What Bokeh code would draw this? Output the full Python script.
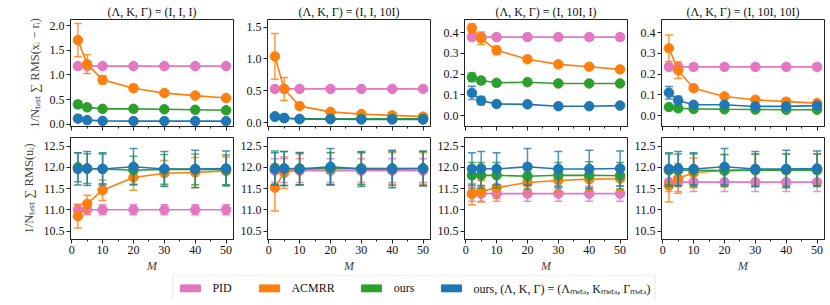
from bokeh.plotting import figure
from bokeh.layouts import column, row
from bokeh.models import (Range1d, Legend, LegendItem, FixedTicker,
                          ColumnDataSource, NumeralTickFormatter)
from bokeh.embed import file_html
from bokeh.resources import INLINE

# ---------------- data ----------------
M = [2, 5, 10, 20, 30, 40, 50]

titles = ["(Λ, K, Γ) = (I, I, I)", "(Λ, K, Γ) = (I, I, 10I)",
          "(Λ, K, Γ) = (I, 10I, I)", "(Λ, K, Γ) = (I, 10I, 10I)"]
series_names = ["PID", "ACMRR", "ours", "ours, (Λ, K, Γ) = (Λₘₑₜₐ, Kₘₑₜₐ, Γₘₑₜₐ)"]

# top row: tracking error
t1_pid = [1.18, 1.18, 1.18, 1.18, 1.18, 1.18, 1.18]
t1_pid_e = [0.03, 0.03, 0.03, 0.03, 0.03, 0.03, 0.03]
t1_acm = [1.71, 1.22, 0.90, 0.73, 0.63, 0.58, 0.53]
t1_acm_e = [0.34, 0.19, 0.08, 0.07, 0.04, 0.03, 0.03]
t1_our = [0.40, 0.34, 0.31, 0.31, 0.30, 0.29, 0.28]
t1_our_e = [0.07, 0.04, 0.03, 0.03, 0.02, 0.02, 0.02]
t1_met = [0.11, 0.08, 0.065, 0.06, 0.06, 0.06, 0.06]
t1_met_e = [0.03, 0.02, 0.01, 0.01, 0.01, 0.01, 0.01]

t2_pid = [0.53, 0.53, 0.53, 0.53, 0.53, 0.53, 0.53]
t2_pid_e = [0.02, 0.02, 0.02, 0.02, 0.02, 0.02, 0.02]
t2_acm = [1.04, 0.53, 0.26, 0.17, 0.135, 0.115, 0.095]
t2_acm_e = [0.36, 0.18, 0.04, 0.03, 0.02, 0.02, 0.02]
t2_our = [0.09, 0.07, 0.06, 0.06, 0.06, 0.06, 0.06]
t2_our_e = [0.02, 0.01, 0.01, 0.01, 0.01, 0.01, 0.01]
t2_met = [0.10, 0.075, 0.055, 0.055, 0.05, 0.05, 0.05]
t2_met_e = [0.03, 0.02, 0.01, 0.01, 0.01, 0.01, 0.01]

t3_pid = [0.379, 0.379, 0.379, 0.379, 0.379, 0.379, 0.379]
t3_pid_e = [0.015, 0.015, 0.015, 0.015, 0.015, 0.015, 0.015]
t3_acm = [0.422, 0.373, 0.315, 0.272, 0.247, 0.236, 0.223]
t3_acm_e = [0.02, 0.03, 0.02, 0.015, 0.012, 0.01, 0.01]
t3_our = [0.185, 0.169, 0.158, 0.161, 0.155, 0.155, 0.155]
t3_our_e = [0.02, 0.015, 0.01, 0.01, 0.01, 0.01, 0.01]
t3_met = [0.109, 0.072, 0.056, 0.054, 0.045, 0.045, 0.048]
t3_met_e = [0.032, 0.02, 0.01, 0.008, 0.006, 0.005, 0.005]

t4_pid = [0.235, 0.235, 0.235, 0.235, 0.235, 0.235, 0.235]
t4_pid_e = [0.015, 0.015, 0.015, 0.015, 0.015, 0.015, 0.015]
t4_acm = [0.325, 0.219, 0.132, 0.092, 0.076, 0.067, 0.06]
t4_acm_e = [0.064, 0.04, 0.015, 0.01, 0.008, 0.006, 0.005]
t4_our = [0.041, 0.035, 0.032, 0.03, 0.029, 0.028, 0.028]
t4_our_e = [0.006, 0.005, 0.004, 0.004, 0.004, 0.004, 0.004]
t4_met = [0.110, 0.073, 0.052, 0.052, 0.044, 0.044, 0.048]
t4_met_e = [0.03, 0.02, 0.01, 0.008, 0.005, 0.005, 0.005]

# bottom row: control effort
b1_pid = [11.0, 11.0, 11.0, 11.0, 11.0, 11.0, 11.0]
b1_pid_e = [0.12, 0.12, 0.12, 0.12, 0.12, 0.12, 0.12]
b1_acm = [10.85, 11.14, 11.46, 11.76, 11.86, 11.88, 11.91]
b1_acm_e = [0.28, 0.2, 0.24, 0.3, 0.3, 0.35, 0.33]
b1_our = [12.0, 11.97, 11.96, 11.93, 11.95, 11.95, 11.94]
b1_our_e = [0.34, 0.35, 0.35, 0.33, 0.35, 0.36, 0.35]
b_met = [11.96, 11.97, 11.96, 12.01, 11.96, 11.96, 11.97]
b_met_e = [0.38, 0.4, 0.38, 0.43, 0.41, 0.44, 0.41]

b2_pid = [11.92, 11.92, 11.92, 11.92, 11.92, 11.92, 11.92]
b2_pid_e = [0.28, 0.28, 0.28, 0.28, 0.28, 0.28, 0.28]
b2_acm = [11.52, 11.87, 11.95, 11.97, 11.97, 11.97, 11.97]
b2_acm_e = [0.55, 0.37, 0.36, 0.37, 0.37, 0.37, 0.37]
b2_our = [11.98, 11.97, 11.97, 11.97, 11.97, 11.97, 11.97]
b2_our_e = [0.4, 0.4, 0.38, 0.38, 0.38, 0.4, 0.4]

b3_pid = [11.38, 11.38, 11.38, 11.38, 11.38, 11.38, 11.38]
b3_pid_e = [0.18, 0.18, 0.18, 0.18, 0.18, 0.18, 0.18]
b3_acm = [11.37, 11.43, 11.52, 11.64, 11.69, 11.72, 11.73]
b3_acm_e = [0.25, 0.25, 0.25, 0.26, 0.27, 0.27, 0.27]
b3_our = [11.81, 11.81, 11.81, 11.79, 11.81, 11.81, 11.80]
b3_our_e = [0.3, 0.3, 0.3, 0.3, 0.3, 0.32, 0.31]

b4_pid = [11.65, 11.65, 11.65, 11.65, 11.65, 11.65, 11.65]
b4_pid_e = [0.22, 0.22, 0.22, 0.22, 0.22, 0.22, 0.22]
b4_acm = [11.57, 11.74, 11.87, 11.93, 11.94, 11.94, 11.95]
b4_acm_e = [0.39, 0.35, 0.35, 0.37, 0.37, 0.37, 0.37]
b4_our = [11.93, 11.93, 11.93, 11.92, 11.93, 11.93, 11.93]
b4_our_e = [0.38, 0.38, 0.38, 0.38, 0.38, 0.38, 0.38]

top_panels = [
    [(t1_pid, t1_pid_e), (t1_acm, t1_acm_e), (t1_our, t1_our_e), (t1_met, t1_met_e)],
    [(t2_pid, t2_pid_e), (t2_acm, t2_acm_e), (t2_our, t2_our_e), (t2_met, t2_met_e)],
    [(t3_pid, t3_pid_e), (t3_acm, t3_acm_e), (t3_our, t3_our_e), (t3_met, t3_met_e)],
    [(t4_pid, t4_pid_e), (t4_acm, t4_acm_e), (t4_our, t4_our_e), (t4_met, t4_met_e)],
]
bot_panels = [
    [(b1_pid, b1_pid_e), (b1_acm, b1_acm_e), (b1_our, b1_our_e), (b_met, b_met_e)],
    [(b2_pid, b2_pid_e), (b2_acm, b2_acm_e), (b2_our, b2_our_e), (b_met, b_met_e)],
    [(b3_pid, b3_pid_e), (b3_acm, b3_acm_e), (b3_our, b3_our_e), (b_met, b_met_e)],
    [(b4_pid, b4_pid_e), (b4_acm, b4_acm_e), (b4_our, b4_our_e), (b_met, b_met_e)],
]

top_ylims = [(-0.05, 2.13), (-0.06, 1.62), (-0.053, 0.464), (-0.053, 0.464)]
top_yticks = [[0, 0.5, 1.0, 1.5, 2.0], [0, 0.5, 1.0, 1.5],
              [0, 0.1, 0.2, 0.3, 0.4], [0, 0.1, 0.2, 0.3, 0.4]]
bot_ylim = (10.3, 12.7)
bot_yticks = [10.5, 11.0, 11.5, 12.0, 12.5]
x_ticks = [0, 10, 20, 30, 40, 50]
x_minor = [5, 15, 25, 35, 45]

colors = ["#e377c2", "#ff7f0e", "#2ca02c", "#1f77b4"]
FONT = "Liberation Serif"

# layout geometry (page has no margin with bokeh's template)
frame_w = 163
left_borders = [70, 33, 33, 33]
right_borders = [1, 1, 1, 4]


def style(p, yticks, show_xlabels):
    p.xgrid.visible = False
    p.ygrid.visible = False
    p.outline_line_color = "#222222"
    p.outline_line_width = 1
    for ax in (p.xaxis[0], p.yaxis[0]):
        ax.axis_line_color = "#222222"
        ax.major_tick_in = 0
        ax.major_tick_out = 4
        ax.minor_tick_in = 0
        ax.major_tick_line_color = "#222222"
        ax.minor_tick_line_color = "#222222"
        ax.major_label_text_font = FONT
        ax.major_label_text_font_size = "12px"
        ax.major_label_text_color = "#111111"
        ax.major_label_standoff = 2
    p.xaxis[0].ticker = FixedTicker(ticks=x_ticks, minor_ticks=x_minor)
    p.xaxis[0].minor_tick_out = 2
    p.yaxis[0].ticker = FixedTicker(ticks=yticks, minor_ticks=[])
    p.yaxis[0].minor_tick_out = 0
    p.yaxis[0].formatter = NumeralTickFormatter(format="0.0")
    if not show_xlabels:
        p.xaxis[0].major_label_text_color = None
        p.xaxis[0].major_label_text_font_size = "1px"
        p.xaxis[0].major_label_standoff = 0


def draw(p, panel):
    for (vals, errs), col in zip(panel, colors):
        src = ColumnDataSource(dict(
            x=M, y=vals,
            lo=[v - e for v, e in zip(vals, errs)],
            hi=[v + e for v, e in zip(vals, errs)]))
        p.segment(x0="x", y0="lo", x1="x", y1="hi", source=src,
                  line_color=col, line_width=1.5, line_alpha=0.8)
        p.scatter("x", "lo", source=src, marker="dash", size=8,
                  line_color=col, line_width=1.5, line_alpha=0.8)
        p.scatter("x", "hi", source=src, marker="dash", size=8,
                  line_color=col, line_width=1.5, line_alpha=0.8)
        p.line("x", "y", source=src, line_color=col, line_width=1.6)
        p.scatter("x", "y", source=src, size=9.5, fill_color=col,
                  line_color=col)


top_figs = []
bot_figs = []
for i in range(4):
    w = left_borders[i] + frame_w + right_borders[i]
    yl = top_ylims[i]
    pt = figure(width=w, height=135, output_backend="svg", toolbar_location=None,
                title=titles[i],
                x_range=Range1d(-0.4, 52.4), y_range=Range1d(yl[0], yl[1]),
                min_border_left=left_borders[i], min_border_right=right_borders[i],
                min_border_top=19, min_border_bottom=9)
    pt.title.align = "center"
    pt.title.text_font = FONT
    pt.title.text_font_style = "normal"
    pt.title.text_font_size = "12px"
    pt.title.text_color = "#111111"
    pt.title.standoff = 1
    pt.title.offset = 0
    style(pt, top_yticks[i], False)
    draw(pt, top_panels[i])
    if i == 0:
        pt.yaxis[0].axis_label = "1/Nₜₑₛₜ ∑ RMS(xᵢ − rᵢ)"
    top_figs.append(pt)

    pb = figure(width=w, height=140, output_backend="svg", toolbar_location=None,
                x_range=Range1d(-0.4, 52.4), y_range=Range1d(*bot_ylim),
                min_border_left=left_borders[i], min_border_right=right_borders[i],
                min_border_top=2, min_border_bottom=33)
    style(pb, bot_yticks, True)
    draw(pb, bot_panels[i])
    pb.xaxis[0].axis_label = "M"
    pb.xaxis[0].axis_label_text_font = FONT
    pb.xaxis[0].axis_label_text_font_style = "italic"
    pb.xaxis[0].axis_label_text_font_size = "12px"
    pb.xaxis[0].axis_label_standoff = 2
    if i == 0:
        pb.yaxis[0].axis_label = "1/Nₜₑₛₜ ∑ RMS(uᵢ)"
    bot_figs.append(pb)

for p in (top_figs[0], bot_figs[0]):
    ax = p.yaxis[0]
    ax.axis_label_text_font = FONT
    ax.axis_label_text_font_style = "normal"
    ax.axis_label_text_font_size = "12.5px"
    ax.axis_label_standoff = 5

# legend strip (dummy off-range point only so that legend patches render)
total_w = sum(l + frame_w + r for l, r in zip(left_borders, right_borders))
pl = figure(width=total_w, height=25, output_backend="svg", toolbar_location=None,
            x_range=Range1d(0, 1), y_range=Range1d(0, 1), min_border=0,
            outline_line_color=None)
pl.axis.visible = False
pl.grid.visible = False
dummy = ColumnDataSource(dict(x=[-5], y=[-5]))
items = []
for name, col in zip(series_names, colors):
    r = pl.rect(x="x", y="y", width=0.1, height=0.1, source=dummy,
                fill_color=col, line_color=col)
    items.append(LegendItem(label=name, renderers=[r]))
leg = Legend(items=items, orientation="horizontal", location="center",
             glyph_width=25, glyph_height=9, label_height=9,
             label_standoff=10, spacing=24, padding=4, margin=0,
             label_text_font=FONT, label_text_font_size="12px",
             label_text_color="#111111",
             border_line_color="#cccccc", border_line_width=1,
             background_fill_alpha=1)
pl.add_layout(leg, "center")

layout = column(row(*top_figs, spacing=0), row(*bot_figs, spacing=0), pl, spacing=0)
open("out.html", "w").write(file_html(layout, INLINE))
